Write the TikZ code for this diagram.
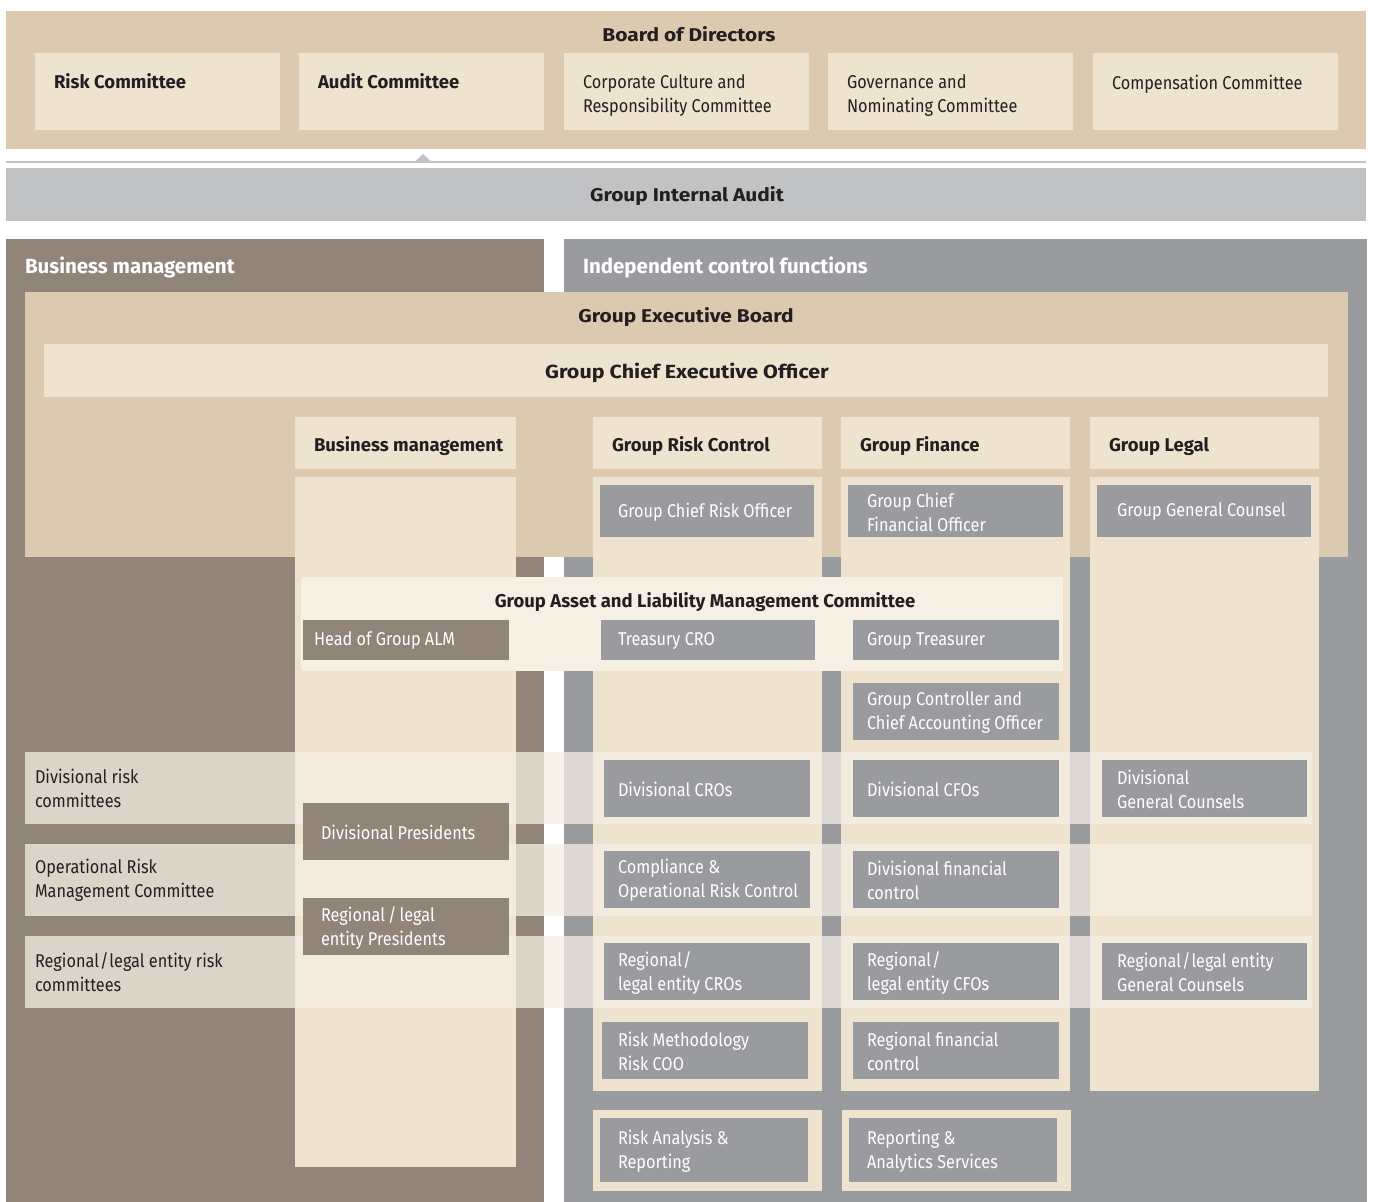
\documentclass[tikz,border=0pt]{standalone}
\usepackage{fontspec}
\setmainfont{Fira Sans}[FakeStretch=0.88]
\newfontfamily\cbold{Fira Sans}[FakeStretch=1.0]
\newfontfamily\wbold{Fira Sans}[FakeStretch=1.13]
\definecolor{cTan}{HTML}{DCCAB0}
\definecolor{cBeige}{HTML}{EDE3CF}
\definecolor{cCream}{HTML}{F5EFE4}
\definecolor{cBrown}{HTML}{918579}
\definecolor{cGray}{HTML}{9A9B9F}
\definecolor{cAudit}{HTML}{C1C2C4}
\definecolor{cInk}{HTML}{231F20}
\tikzset{
  area/.style={inner sep=0pt, outer sep=0pt, anchor=north west},
  txt/.style={inner sep=0pt, outer sep=0pt, align=left, font=\fontsize{18.5}{24}\selectfont},
  wtxt/.style={txt, text=white},
  dtxt/.style={txt, text=cInk},
  btxt/.style={txt, text=cInk, font=\cbold\bfseries\fontsize{18.5}{24}\selectfont},
  wtitle/.style={txt, text=cInk, font=\wbold\bfseries\fontsize{18.5}{24}\selectfont},
  ttl/.style={txt, font=\cbold\bfseries\fontsize{20.5}{24}\selectfont},
  band/.style={area, fill=cCream, fill opacity=0.75},
}
% box: name, x1, y1, x2, y2, style
\newcommand\bx[6]{%
  \pgfmathsetlengthmacro\bxw{#4-#2}%
  \pgfmathsetlengthmacro\bxh{#5-#3}%
  \node[area, #6, minimum width=\bxw, minimum height=\bxh] (#1) at (#2,#3) {};}
% box with vertically centred text: name, x1, y1, x2, y2, style, text x, text
\newcommand\tbx[8]{%
  \bx{#1}{#2}{#3}{#4}{#5}{#6}%
  \pgfmathsetmacro\bxc{(#3+#5)/2+1}%
  \node[wtxt, anchor=west] (#1-t) at (#7,\bxc) {#8};}
\begin{document}
\begin{tikzpicture}[x=1pt,y=-1pt]
\useasboundingbox (0,0) rectangle (1374,1202);
\fill[white] (0,0) rectangle (1374,1202);
% Board of Directors
\bx{bod}{6}{11}{1366}{149}{fill=cTan}
\node[wtitle, anchor=base] (bod-t) at (689,41) {Board of Directors};
\bx{c1}{35}{53}{280}{130}{fill=cBeige}
\bx{c2}{299}{53}{544}{130}{fill=cBeige}
\bx{c3}{564}{53}{809}{130}{fill=cBeige}
\bx{c4}{828}{53}{1073}{130}{fill=cBeige}
\bx{c5}{1093}{53}{1338}{130}{fill=cBeige}
\node[btxt, anchor=north west] (c1-t) at (54,73) {Risk Committee};
\node[btxt, anchor=north west] (c2-t) at (318,73) {Audit Committee};
\node[dtxt, anchor=north west] (c3-t) at (583,75) {Corporate Culture and\\Responsibility Committee};
\node[dtxt, anchor=north west] (c4-t) at (847,75) {Governance and\\Nominating Committee};
\node[dtxt, anchor=north west] (c5-t) at (1112,75) {Compensation Committee};
% divider line with pointer
\bx{div}{6}{161}{1366}{163}{fill=cAudit}
\fill[cAudit] (415,161.5) -- (423,154) -- (431,161.5) -- cycle;
% Group Internal Audit
\bx{gia}{6}{168}{1366}{221}{fill=cAudit}
\node[wtitle, anchor=base] (gia-t) at (687,201) {Group Internal Audit};
% big areas
\bx{bm}{6}{239}{544}{1202}{fill=cBrown}
\bx{icf}{564}{239}{1367}{1202}{fill=cGray}
\node[ttl, text=white, anchor=base west] (bm-t) at (25,273) {Business management};
\node[ttl, text=white, anchor=base west] (icf-t) at (583,273) {Independent control functions};
% Group Executive Board
\bx{geb}{25}{292}{1348}{557}{fill=cTan}
\node[wtitle, anchor=base] (geb-t) at (686,322) {Group Executive Board};
\bx{gceo}{44}{344}{1328}{397}{fill=cBeige}
\node[wtitle, font=\wbold\bfseries\fontsize{19}{24}\selectfont, anchor=base] (gceo-t) at (687,378) {Group Chief Executive Officer};
% column headers
\bx{bmh}{295}{417}{516}{469}{fill=cBeige}
\bx{rch}{593}{417}{822}{469}{fill=cBeige}
\bx{gfh}{841}{417}{1070}{469}{fill=cBeige}
\bx{glh}{1090}{417}{1319}{469}{fill=cBeige}
\node[btxt, anchor=base west] (bmh-t) at (314,451) {Business management};
\node[btxt, anchor=base west] (rch-t) at (612,451) {Group Risk Control};
\node[btxt, anchor=base west] (gfh-t) at (860,451) {Group Finance};
\node[btxt, anchor=base west] (glh-t) at (1109,451) {Group Legal};
% column bodies
\bx{bmc}{295}{477}{516}{1167}{fill=cBeige}
\bx{rcc}{593}{477}{822}{1091}{fill=cBeige}
\bx{gfc}{841}{477}{1070}{1091}{fill=cBeige}
\bx{glc}{1090}{477}{1319}{1091}{fill=cBeige}
% heads
\tbx{gcro}{600}{485}{814}{537}{fill=cGray}{618}{Group Chief Risk Officer}
\tbx{gcfo}{848}{485}{1063}{537}{fill=cGray}{867}{Group Chief\\Financial Officer}
\tbx{ggc}{1097}{485}{1311}{537}{fill=cGray}{1117}{Group General Counsel}
% ALCO
\bx{alco}{301}{577}{1063}{671}{fill=cCream}
\node[btxt, anchor=base] (alco-t) at (705,607) {Group Asset and Liability Management Committee};
\tbx{alm}{303}{620}{509}{660}{fill=cBrown}{314}{Head of Group ALM}
\tbx{tcro}{601}{620}{815}{660}{fill=cGray}{618}{Treasury CRO}
\tbx{gtr}{853}{620}{1059}{660}{fill=cGray}{867}{Group Treasurer}
\tbx{gcao}{853}{683}{1059}{740}{fill=cGray}{867}{Group Controller and\\Chief Accounting Officer}
% translucent bands
\bx{b1}{25}{752}{1312}{824}{band}
\bx{b2}{25}{844}{1312}{916}{band}
\bx{b3}{25}{936}{1312}{1008}{band}
\node[dtxt, anchor=west] (b1-t) at (35,788) {Divisional risk\\committees};
\node[dtxt, anchor=west] (b2-t) at (35,880) {Operational Risk\\Management Committee};
\node[dtxt, anchor=west] (b3-t) at (35,972) {Regional\kern1pt/\kern1pt legal entity risk\\committees};
% divisional level
\tbx{dcro}{604}{760}{810}{817}{fill=cGray}{618}{Divisional CROs}
\tbx{dcfo}{853}{760}{1059}{817}{fill=cGray}{867}{Divisional CFOs}
\tbx{dgc}{1102}{760}{1307}{817}{fill=cGray}{1117}{Divisional\\General Counsels}
\tbx{dpres}{303}{803}{509}{860}{fill=cBrown}{321}{Divisional Presidents}
\tbx{corc}{604}{851}{810}{908}{fill=cGray}{618}{Compliance \&\\Operational Risk Control}
\tbx{dfc}{853}{851}{1059}{908}{fill=cGray}{867}{Divisional financial\\control}
\tbx{rpres}{303}{898}{509}{955}{fill=cBrown}{321}{Regional\,/\,legal\\entity Presidents}
\tbx{rcro}{604}{943}{810}{1000}{fill=cGray}{618}{Regional\kern1pt/\\legal entity CROs}
\tbx{rcfo}{853}{943}{1059}{1000}{fill=cGray}{867}{Regional\kern1pt/\\legal entity CFOs}
\tbx{rgc}{1102}{943}{1307}{1000}{fill=cGray}{1117}{Regional\kern1pt/\kern1pt legal entity\\General Counsels}
\tbx{rmeth}{602}{1022}{808}{1079}{fill=cGray}{618}{Risk Methodology\\Risk COO}
\tbx{rfc}{853}{1022}{1059}{1079}{fill=cGray}{867}{Regional financial\\control}
% bottom boxes
\bx{rar-o}{593}{1110}{822}{1191}{fill=cBeige}
\tbx{rar}{600}{1118}{808}{1182}{fill=cGray}{618}{Risk Analysis \&\\Reporting}
\bx{ras-o}{842}{1110}{1071}{1191}{fill=cBeige}
\tbx{ras}{849}{1118}{1057}{1182}{fill=cGray}{867}{Reporting \&\\Analytics Services}
\end{tikzpicture}
\end{document}
